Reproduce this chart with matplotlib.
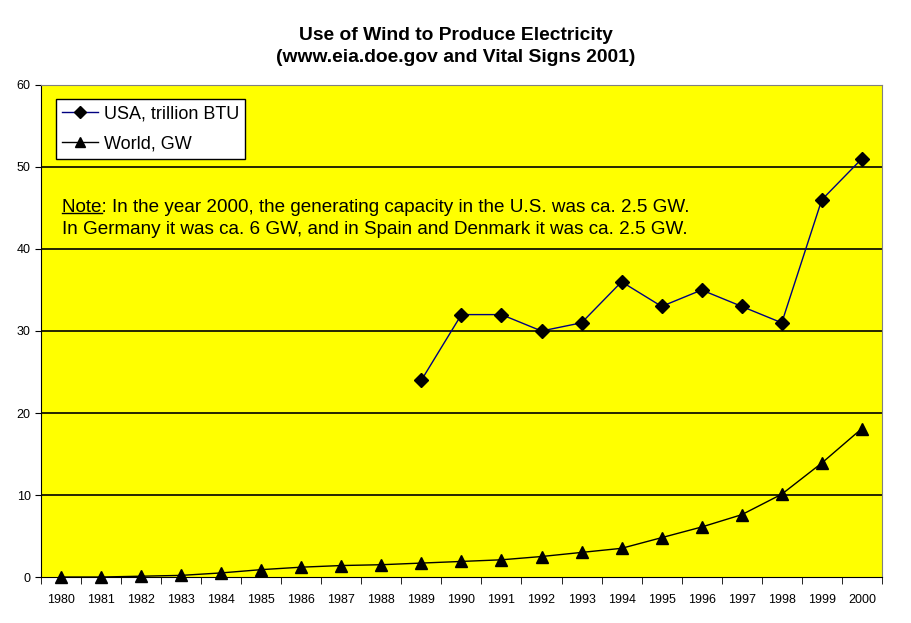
import matplotlib.pyplot as plt
import numpy as np
from matplotlib.lines import Line2D
from matplotlib import font_manager

years = list(range(1980, 2001))
world_gw = [0, 0, 0.1, 0.2, 0.5, 0.9, 1.2, 1.4, 1.5, 1.7, 1.9, 2.1, 2.5, 3.0, 3.5,
            4.8, 6.1, 7.6, 10.1, 13.9, 18.1]
usa_years = list(range(1989, 2001))
usa_tbtu = [24, 32, 32, 30, 31, 36, 33, 35, 33, 31, 46, 51]

plt.rcParams['font.family'] = ['Liberation Sans', 'DejaVu Sans']
names = {f.name for f in font_manager.fontManager.ttflist}
tick_family = 'Liberation Sans Narrow' if 'Liberation Sans Narrow' in names else 'Liberation Sans'

fig = plt.figure(figsize=(9.11, 6.23), dpi=100)
ax = fig.add_axes([0.045, 0.0738, 0.923, 0.7898])
ax.set_facecolor('#ffff00')

for v in range(10, 60, 10):
    ax.axhline(v, color='black', lw=1.2, zorder=1)

ax.plot(usa_years, usa_tbtu, color='#000080', lw=1, marker='D', ms=7,
        mfc='black', mec='black', label='USA, trillion BTU', zorder=3, clip_on=False)
ax.plot(years, world_gw, color='black', lw=1, marker='^', ms=8.5,
        mfc='black', mec='black', label='World, GW', zorder=3, clip_on=False)

ax.set_xlim(1979.5, 2000.5)
ax.set_ylim(0, 60)
ax.set_xticks(years)
ax.set_xticklabels([str(y) for y in years], fontsize=9, family=tick_family)
ax.set_xticks(np.arange(1979.5, 2001, 1), minor=True)
ax.tick_params(axis='x', which='major', length=0, pad=12)
ax.tick_params(axis='x', which='minor', length=5, direction='out', color='black')
ax.set_yticks(range(0, 61, 10))
ax.set_yticklabels([str(v) for v in range(0, 61, 10)], fontsize=9, family=tick_family)
ax.tick_params(axis='y', length=4, direction='out')

ax.spines['top'].set_color('#808080')
ax.spines['right'].set_color('#808080')
ax.spines['left'].set_color('black')
ax.spines['bottom'].set_color('black')

leg = ax.legend(loc='upper left', bbox_to_anchor=(0.007, 0.99), fontsize=13,
                frameon=True, fancybox=False, edgecolor='black', framealpha=1,
                handlelength=2.0, handletextpad=0.3, borderpad=0.35, labelspacing=0.75,
                markerscale=0.9)
leg.get_frame().set_linewidth(1)

note = ax.text(0.025, 0.768,
               'Note: In the year 2000, the generating capacity in the U.S. was ca. 2.5 GW.\n'
               'In Germany it was ca. 6 GW, and in Spain and Denmark it was ca. 2.5 GW.',
               transform=ax.transAxes, fontsize=13.6, va='top', linespacing=1.38)
word = ax.text(0.025, 0.768, 'Note', transform=ax.transAxes, fontsize=13.6,
               va='top', alpha=0)

fig.text(0.5, 0.925, 'Use of Wind to Produce Electricity\n(www.eia.doe.gov and Vital Signs 2001)',
         ha='center', va='center', fontsize=13.9, fontweight='bold', linespacing=1.35)

# underline "Note"
fig.canvas.draw()
bb = word.get_window_extent()
x0, x1 = bb.x0 / fig.bbox.width, bb.x1 / fig.bbox.width
yl = (bb.y0 + 3) / fig.bbox.height
fig.add_artist(Line2D([x0, x1], [yl, yl], color='black', lw=1, transform=fig.transFigure))

fig.savefig('out.png', dpi=100)
